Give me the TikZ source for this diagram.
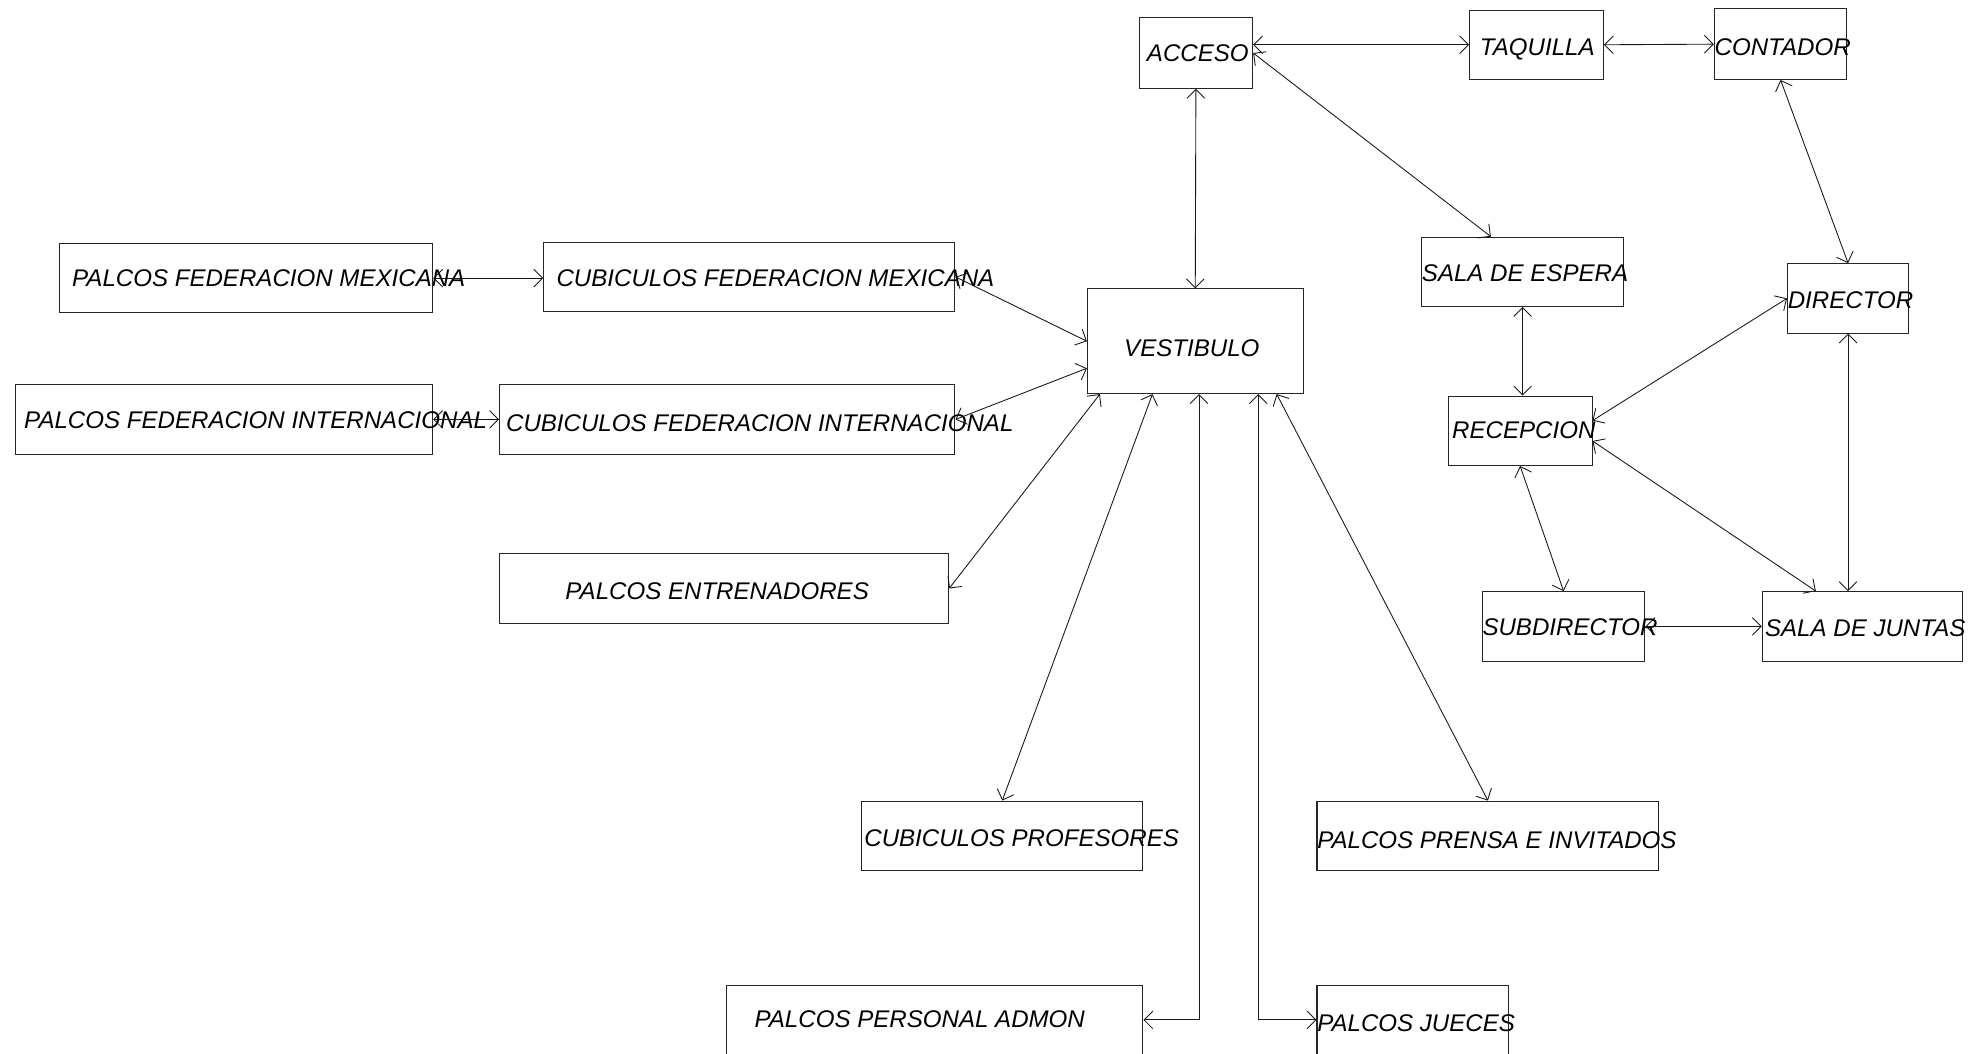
\documentclass[tikz,border=0pt]{standalone}
\usepackage{fontspec}
\setmainfont{Liberation Sans}
\usetikzlibrary{arrows.meta}
\begin{document}
\begin{tikzpicture}[x=1pt,y=-1pt,
  box/.style={draw=black!85,line width=0.8pt,rectangle,inner sep=0pt},
  lbl/.style={anchor=west,inner sep=0pt,text height=13.7pt,text depth=0pt,
    font=\fontsize{19.1}{20}\selectfont\itshape},
  link/.style={draw=black!90,line width=0.7pt,{Straight Barb[length=7pt,width=14pt]}-{Straight Barb[length=7pt,width=14pt]}}]
\useasboundingbox (0,0) rectangle (1568,835);
\clip (0,0) rectangle (1568,835);
% room boxes
\node[box,minimum width=90pt,minimum height=56pt]  (acceso)      at (948,42)      {};
\node[box,minimum width=106pt,minimum height=55pt] (taquilla)    at (1218,35.5)   {};
\node[box,minimum width=105pt,minimum height=56pt] (contador)    at (1411.5,35)   {};
\node[box,minimum width=171pt,minimum height=83pt] (vestibulo)   at (947.5,270.5) {};
\node[box,minimum width=160pt,minimum height=55pt] (espera)      at (1207,215.5)  {};
\node[box,minimum width=96pt,minimum height=55pt]  (director)    at (1465,236.5)  {};
\node[box,minimum width=114pt,minimum height=55pt] (recepcion)   at (1205,341.5)  {};
\node[box,minimum width=129pt,minimum height=55pt] (subdirector) at (1239.5,496.5){};
\node[box,minimum width=159pt,minimum height=55pt] (juntas)      at (1476.5,496.5){};
\node[box,minimum width=296pt,minimum height=55pt] (pfm)         at (195,220.5)   {};
\node[box,minimum width=326pt,minimum height=55pt] (cfm)         at (594,219.5)   {};
\node[box,minimum width=331pt,minimum height=55pt] (pfi)         at (177.5,332.5) {};
\node[box,minimum width=361pt,minimum height=55pt] (cfi)         at (576.5,332.5) {};
\node[box,minimum width=356pt,minimum height=55pt] (entren)      at (574,466.5)   {};
\node[box,minimum width=223pt,minimum height=55pt] (profes)      at (794.5,662.5) {};
\node[box,minimum width=271pt,minimum height=55pt] (prensa)      at (1179.5,662.5){};
\node[box,minimum width=330pt,minimum height=55pt] (admon)       at (741,808.5)   {};
\node[box,minimum width=152pt,minimum height=55pt] (jueces)      at (1120,808.5)  {};
% labels
\node[lbl] (t-acceso)      at (909,42)   {ACCESO};
\node[lbl] (t-taquilla)    at (1173,37)  {TAQUILLA};
\node[lbl] (t-contador)    at (1359,37)  {CONTADOR};
\node[lbl] (t-vestibulo)   at (891,276)  {VESTIBULO};
\node[lbl] (t-espera)      at (1127,216) {SALA DE ESPERA};
\node[lbl] (t-director)    at (1417,238) {DIRECTOR};
\node[lbl] (t-recepcion)   at (1151,341) {RECEPCION};
\node[lbl] (t-subdirector) at (1175,497) {SUBDIRECTOR};
\node[lbl] (t-juntas)      at (1399,498) {SALA DE JUNTAS};
\node[lbl] (t-pfm)         at (57,220)   {PALCOS FEDERACION MEXICANA};
\node[lbl] (t-cfm)         at (441,220)  {CUBICULOS FEDERACION MEXICANA};
\node[lbl] (t-pfi)         at (19,333)   {PALCOS FEDERACION INTERNACIONAL};
\node[lbl] (t-cfi)         at (401,335)  {CUBICULOS FEDERACION INTERNACIONAL};
\node[lbl] (t-entren)      at (448,468)  {PALCOS ENTRENADORES};
\node[lbl] (t-profes)      at (685,664)  {CUBICULOS PROFESORES};
\node[lbl] (t-prensa)      at (1044,666) {PALCOS PRENSA E INVITADOS};
\node[lbl] (t-admon)       at (598,808)  {PALCOS PERSONAL ADMON};
\node[lbl] (t-jueces)      at (1044,811) {PALCOS JUECES};
% connections
\draw[link] (acceso.east |- taquilla.west) -- (taquilla.west);
\draw[link] (taquilla.east) -- (contador.west);
\draw[link] (acceso.south) -- (vestibulo.north);
\draw[link] (acceso.east) -- (espera.132);
\draw[link] (contador.south) -- (director.north);
\draw[link] (espera.south) -- (espera.south |- recepcion.north);
\draw[link] (director.west) -- (recepcion.8);
\draw[link] (recepcion.-8.5) -- (juntas.143);
\draw[link] (director.south) -- (director.south |- juntas.north);
\draw[link] (recepcion.south) -- (subdirector.north);
\draw[link] (subdirector.east) -- (juntas.west);
\draw[link] (pfm.east) -- (pfm.east -| cfm.west);
\draw[link] (cfm.east) -- (vestibulo.west);
\draw[link] (pfi.east) -- (cfi.west);
\draw[link] (cfi.east) -- (vestibulo.194.7);
\draw[link] (vestibulo.209.8) -- (entren.east);
\draw[link] (vestibulo.231.9) -- (profes.north);
\draw[link] (vestibulo.327.2) -- (prensa.north);
\draw[link] (vestibulo.274.8) |- (admon.east);
\draw[link] (vestibulo.320.6) |- (jueces.west);
\end{tikzpicture}
\end{document}
